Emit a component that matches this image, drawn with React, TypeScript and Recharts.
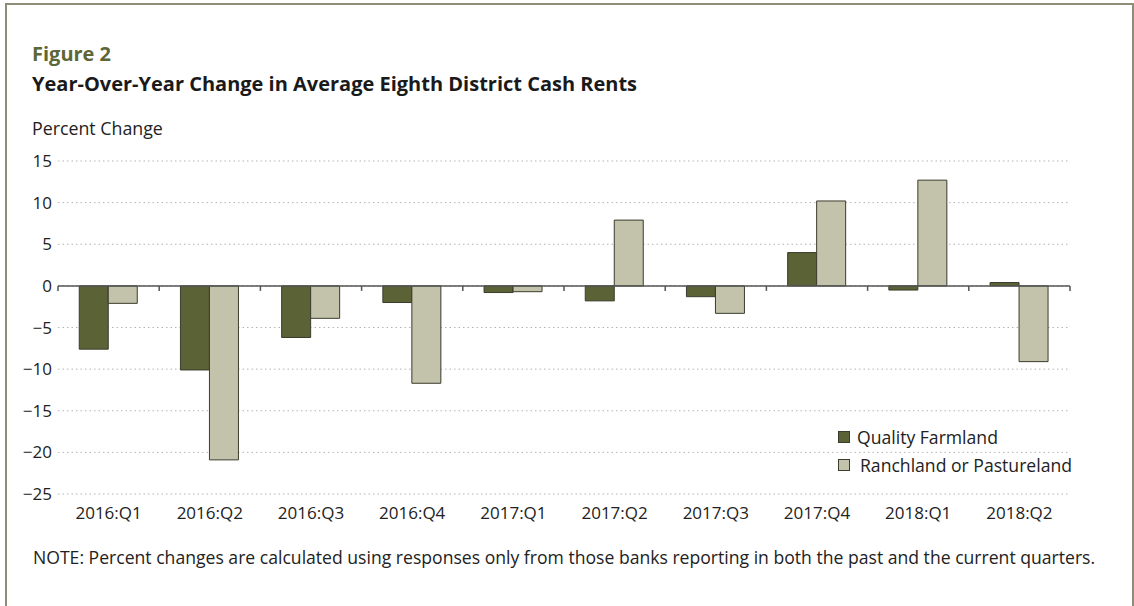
import React from 'react';
import { BarChart, Bar, XAxis, YAxis, CartesianGrid, ReferenceLine, Legend } from 'recharts';

const categories = ['2016:Q1', '2016:Q2', '2016:Q3', '2016:Q4', '2017:Q1', '2017:Q2', '2017:Q3', '2017:Q4', '2018:Q1', '2018:Q2'];
const qualityFarmland = [-7.6, -10.1, -6.2, -2.0, -0.8, -1.8, -1.3, 4.0, -0.5, 0.4];
const ranchland = [-2.1, -20.9, -3.9, -11.7, -0.7, 7.9, -3.3, 10.2, 12.7, -9.1];
const yTicks = [-25, -20, -15, -10, -5, 0, 5, 10, 15];
const seriesNames = ['Quality Farmland', 'Ranchland or Pastureland'];

const data = categories.map((c, i) => ({ cat: c, farm: qualityFarmland[i], ranch: ranchland[i] }));

const FONT = '"Open Sans", sans-serif';
const DARK = '#5b6235';
const LIGHT = '#c2c3aa';
const EDGE = '#3b3b2e';

const ZeroLine = (props: any) => {
  const { x1, x2, y1 } = props;
  const n = categories.length;
  const step = (x2 - x1) / n;
  const ticks = [];
  for (let i = 0; i <= n; i++) {
    const x = x1 + step * i;
    ticks.push(<line key={i} x1={x} x2={x} y1={y1} y2={y1 + 5} stroke="#555" strokeWidth={1.5} />);
  }
  return (
    <g>
      <line x1={x1} x2={x2} y1={y1} y2={y1} stroke="#555" strokeWidth={1.5} />
      {ticks}
    </g>
  );
};

const LegendContent = () => (
  <div style={{ fontFamily: FONT, fontSize: 17.6, color: '#222', lineHeight: '28px' }}>
    {seriesNames.map((name, i) => (
      <div key={name} style={{ display: 'flex', alignItems: 'center' }}>
        <span
          style={{
            display: 'inline-block',
            width: 10,
            height: 10,
            background: i === 0 ? DARK : LIGHT,
            border: `1px solid ${EDGE}`,
            marginRight: i === 0 ? 7 : 10,
          }}
        />
        <span>{name}</span>
      </div>
    ))}
  </div>
);

export default function App() {
  return (
    <div style={{ position: 'absolute', left: 0, top: 0, width: 1134, height: 606, background: '#fff', overflow: 'hidden' }}>
      <div
        style={{
          position: 'absolute',
          left: 5,
          top: 3,
          width: 1125,
          height: 640,
          borderLeft: '2px solid #8e8e78',
          borderTop: '2px solid #8e8e78',
          borderRight: '2px solid #8e8e78',
        }}
      />
      <BarChart
        width={1134}
        height={606}
        data={data}
        margin={{ top: 161, right: 64, bottom: 82, left: 8 }}
        barCategoryGap="21%"
        barGap={0}
      >
        <CartesianGrid vertical={false} stroke="#b3b3b3" strokeDasharray="1.5 3" />
        <XAxis
          dataKey="cat"
          axisLine={false}
          tickLine={false}
          tickMargin={7}
          height={30}
          interval={0}
          tick={{ fill: '#222', fontSize: 17, fontFamily: FONT }}
        />
        <YAxis
          domain={[-25, 15]}
          ticks={yTicks}
          axisLine={false}
          tickLine={false}
          tickSize={4}
          tickMargin={2}
          width={50}
          tick={{ fill: '#222', fontSize: 17, fontFamily: FONT }}
          tickFormatter={(v: number) => String(v).replace('-', '\u2212')}
        />
        <Bar dataKey="farm" name={seriesNames[0]} fill={DARK} stroke={EDGE} strokeWidth={1} isAnimationActive={false} />
        <Bar dataKey="ranch" name={seriesNames[1]} fill={LIGHT} stroke={EDGE} strokeWidth={1} isAnimationActive={false} />
        <ReferenceLine y={0} shape={ZeroLine} />
        <Legend
          content={<LegendContent />}
          layout="horizontal"
          verticalAlign="middle"
          align="center"
          wrapperStyle={{ left: 838, top: 423, width: 280 }}
        />
      </BarChart>
      <svg width={1134} height={606} style={{ position: 'absolute', left: 0, top: 0, pointerEvents: 'none' }}>
        <text x={32} y={61} fontFamily={FONT} fontWeight={700} fontSize={20} fill="#5d6636">Figure 2</text>
        <text x={32} y={91} fontFamily={FONT} fontWeight={700} fontSize={20} fill="#1a1a1a">
          Year-Over-Year Change in Average Eighth District Cash Rents
        </text>
        <text x={32} y={135} fontFamily={FONT} fontSize={17.8} fill="#222">Percent Change</text>
        <text x={33} y={564} fontFamily={FONT} fontSize={17.6} fill="#222">
          NOTE: Percent changes are calculated using responses only from those banks reporting in both the past and the current quarters.
        </text>
      </svg>
    </div>
  );
}
